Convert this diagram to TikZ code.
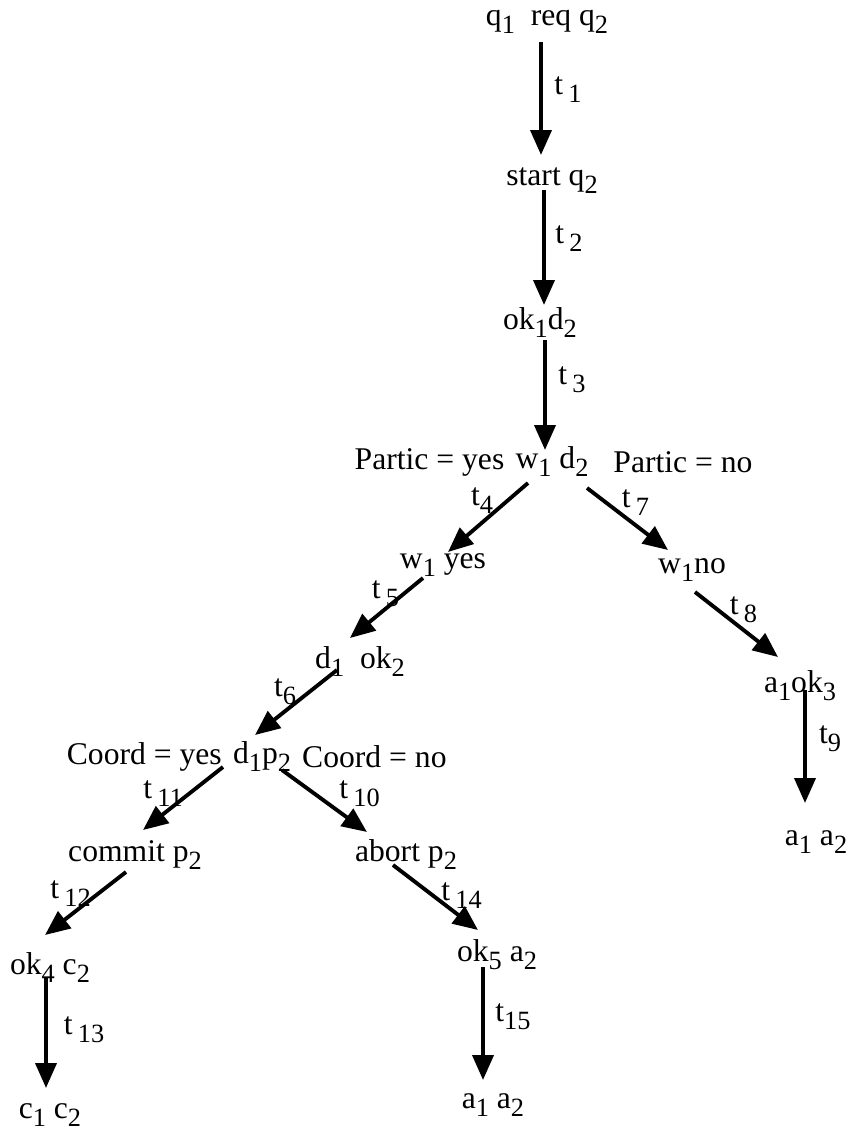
\documentclass[tikz,border=0pt]{standalone}
\usepackage{fontspec}
\setmainfont{Liberation Serif}
\usetikzlibrary{arrows.meta, positioning, calc}
\newcommand{\lo}[1]{\raisebox{-0.55ex}{\fontsize{15}{15}\selectfont #1}}

\begin{document}
\begin{tikzpicture}[x=0.02cm, y=-0.02cm,
      state/.style={inner sep=2pt, font=\fontsize{18}{20}\selectfont},
      lbl/.style={inner sep=0pt, font=\fontsize{18}{20}\selectfont},
      arr/.style={-{Triangle[length=0.5cm, width=0.42cm]}, line width=2.2pt}
    ]
      \useasboundingbox (0,0) rectangle (852,1135);
      % states
      \node[state] (s1) at (547,22) {q\lo{1}\ \ req q\lo{2}};
      \node[state] (s2) at (552,181) {start q\lo{2}};
      \node[state] (s3) at (540,323) {ok\lo{1}d\lo{2}};
      \node[state] (s4) at (552,462) {w\lo{1} d\lo{2}};
      \node[state, left=2pt of s4] (py) {Partic = yes};
      \node[state] (pn) at (683,462) {Partic = no};
      \node[state] (s5) at (443,565) {w\lo{1} yes};
      \node[state] (s6) at (692,570) {w\lo{1}no};
      \node[state] (s7) at (360,662) {d\lo{1}\ \ ok\lo{2}};
      \node[state] (s8) at (800,686) {a\lo{1}ok\lo{3}};
      \node[state] (s9) at (262,757) {d\lo{1}p\lo{2}};
      \node[state, left=2pt of s9] (cy) {Coord = yes};
      \node[state, right=2pt of s9] (cn) {Coord = no};
      \node[state] (s10) at (816,842) {a\lo{1} a\lo{2}};
      \node[state] (s11) at (135,855) {commit p\lo{2}};
      \node[state] (s12) at (406,855) {abort p\lo{2}};
      \node[state] (s13) at (50,968) {ok\lo{4} c\lo{2}};
      \node[state] (s14) at (497,955) {ok\lo{5} a\lo{2}};
      \node[state] (s15) at (50,1115) {c\lo{1} c\lo{2}};
      \node[state] (s16) at (493,1105) {a\lo{1} a\lo{2}};
      % transitions
      \draw[arr] ($(s1)+(-6,20)$) -- ($(s2)+(-11,-26)$) node[lbl, pos=.5, shift={(27,-9)}] {t\,\lo{1}};
      \draw[arr] ($(s2)+(-8,9)$) -- ($(s3)+(4,-18)$) node[lbl, pos=.5, shift={(25,-9)}] {t\,\lo{2}};
      \draw[arr] ($(s3)+(5,17)$) -- ($(s4)+(-7,-12)$) node[lbl, pos=.5, shift={(27,-15)}] {t\,\lo{3}};
      \draw[arr] ($(s4)+(-24,21)$) -- ($(s5)+(5,-13)$) node[lbl, pos=.25, shift={(-26,0)}] {t\lo{4}};
      \draw[arr] ($(s4)+(35,26)$) -- ($(s6)+(-24,-20)$) node[lbl, pos=.5, shift={(8,-16)}] {t\,\lo{7}};
      \draw[arr] ($(s5)+(-20,13)$) -- ($(s7)+(-10,-24)$) node[lbl, pos=.5, shift={(-1,-14)}] {t\,\lo{5}};
      \draw[arr] ($(s6)+(3,22)$) -- ($(s8)+(-22,-29)$) node[lbl, pos=.5, shift={(7,-15)}] {t\,\lo{8}};
      \draw[arr] ($(s7)+(-23,8)$) -- ($(s9)+(-7,-22)$) node[lbl, pos=.5, shift={(-11,-11)}] {t\lo{6}};
      \draw[arr] ($(s8)+(5,4)$) -- ($(s10)+(-11,-39)$) node[lbl, pos=.5, shift={(25,-8)}] {t\lo{9}};
      \draw[arr] ($(s9)+(-39,10)$) -- ($(s11)+(8,-25)$) node[lbl, pos=.5, shift={(-20,-5)}] {t\,\lo{11}};
      \draw[arr] ($(s9)+(20,13)$) -- ($(s12)+(-39,-23)$) node[lbl, pos=.5, shift={(35,-7)}] {t\,\lo{10}};
      \draw[arr] ($(s11)+(-9,17)$) -- ($(s13)+(-5,-33)$) node[lbl, pos=.5, shift={(-15,-10)}] {t\,\lo{12}};
      \draw[arr] ($(s12)+(-13,10)$) -- ($(s14)+(-19,-25)$) node[lbl, pos=.5, shift={(26,-2)}] {t\,\lo{14}};
      \draw[arr] ($(s13)+(-4,10)$) -- ($(s15)+(-4,-27)$) node[lbl, pos=.5, shift={(38,-3)}] {t\,\lo{13}};
      \draw[arr] ($(s14)+(-14,12)$) -- ($(s16)+(-10,-25)$) node[lbl, pos=.5, shift={(30,-7)}] {t\lo{15}};
    \end{tikzpicture}
\end{document}
